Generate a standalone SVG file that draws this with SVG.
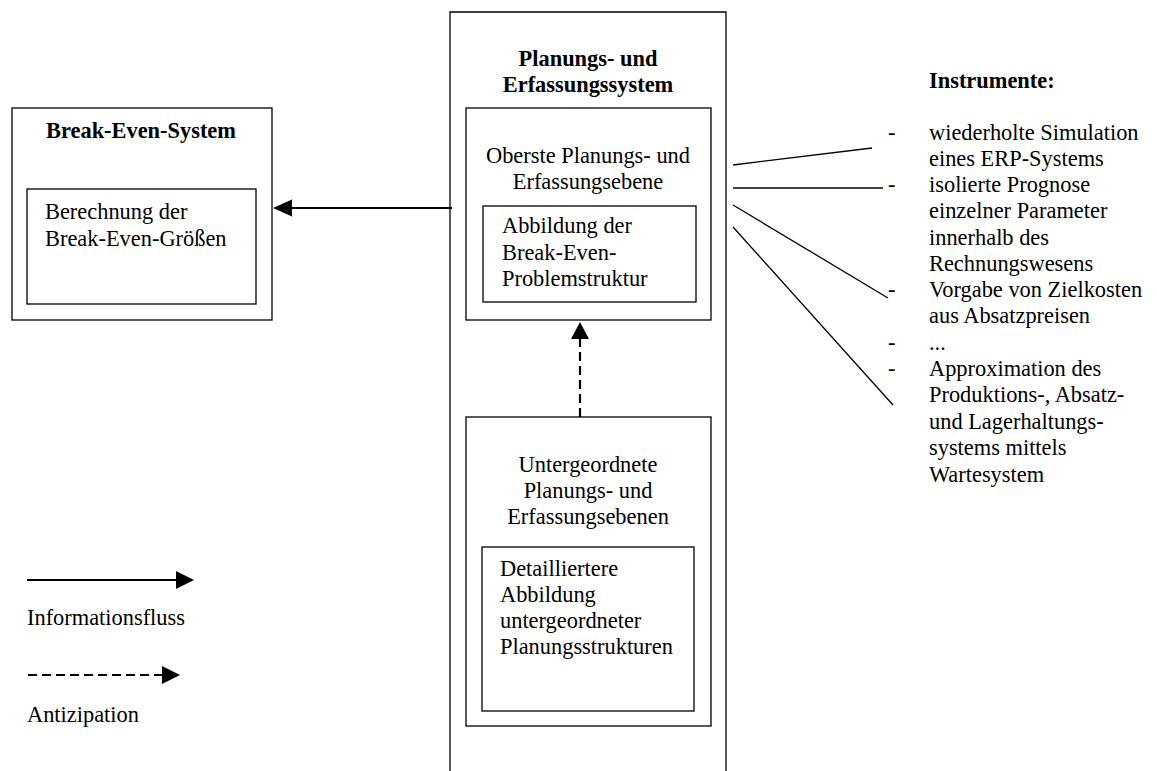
<svg xmlns="http://www.w3.org/2000/svg" width="1157" height="771" viewBox="0 0 1157 771">
<style>
text{font-family:"Liberation Serif","Times New Roman",serif;font-size:22.4px;fill:#000}
.b{font-weight:bold}
.c{text-anchor:middle}
.box{fill:none;stroke:#000;stroke-width:1.3}
.ln{stroke:#000;stroke-width:1.3;fill:none}
.arr{stroke:#000;stroke-width:2.2;fill:none}
.dash{stroke-dasharray:9 5}
.head{fill:#000}
</style>
<rect width="1157" height="771" fill="#fff"/>
<g id="break-even-system">
<rect class="box" x="12" y="108" width="260" height="212"/>
<text class="b c" x="141" y="138">Break-Even-System</text>
</g>
<g id="berechnung">
<rect class="box" x="27" y="189" width="229" height="115"/>
<text x="45" y="219">Berechnung der</text>
<text x="45" y="246">Break-Even-Größen</text>
</g>
<g id="planungssystem">
<path class="box" d="M450,780 V12 H726 V780"/>
<text class="b c" x="588" y="66">Planungs- und</text>
<text class="b c" x="588" y="92">Erfassungssystem</text>
</g>
<g id="oberste-ebene">
<rect class="box" x="466" y="108" width="245" height="212"/>
<text class="c" x="588" y="163">Oberste Planungs- und</text>
<text class="c" x="588" y="189">Erfassungsebene</text>
</g>
<g id="abbildung">
<rect class="box" x="483" y="206" width="213" height="96"/>
<text x="502" y="233">Abbildung der</text>
<text x="502" y="260">Break-Even-</text>
<text x="502" y="286">Problemstruktur</text>
</g>
<g id="untergeordnete-ebenen">
<rect class="box" x="466" y="417" width="245" height="309"/>
<text class="c" x="588" y="472">Untergeordnete</text>
<text class="c" x="588" y="498">Planungs- und</text>
<text class="c" x="588" y="524">Erfassungsebenen</text>
</g>
<g id="detailliertere-abbildung">
<rect class="box" x="482" y="547" width="212" height="164"/>
<text x="500" y="576">Detailliertere</text>
<text x="500" y="602">Abbildung</text>
<text x="500" y="628">untergeordneter</text>
<text x="500" y="654">Planungsstrukturen</text>
</g>
<g id="instrumente">
<text class="b" x="929" y="88">Instrumente:</text>
<text x="888" y="140">-</text>
<text x="929" y="140">wiederholte Simulation</text>
<text x="929" y="166">eines ERP-Systems</text>
<text x="888" y="192">-</text>
<text x="929" y="192">isolierte Prognose</text>
<text x="929" y="218">einzelner Parameter</text>
<text x="929" y="245">innerhalb des</text>
<text x="929" y="271">Rechnungswesens</text>
<text x="888" y="297">-</text>
<text x="929" y="297">Vorgabe von Zielkosten</text>
<text x="929" y="323">aus Absatzpreisen</text>
<text x="888" y="350">-</text>
<text x="929" y="350">...</text>
<text x="888" y="376">-</text>
<text x="929" y="376">Approximation des</text>
<text x="929" y="402">Produktions-, Absatz-</text>
<text x="929" y="429">und Lagerhaltungs-</text>
<text x="929" y="455">systems mittels</text>
<text x="929" y="482">Wartesystem</text>
</g>
<g id="connectors">
<line class="arr" x1="452" y1="208" x2="290" y2="208"/>
<polygon class="head" points="273,208 292,199.5 292,216.5"/>
<line class="arr dash" x1="580" y1="417" x2="580" y2="338"/>
<polygon class="head" points="580,322 571,339 589,339"/>
<line class="ln" x1="733" y1="165" x2="872" y2="148"/>
<line class="ln" x1="733" y1="188" x2="883" y2="188"/>
<line class="ln" x1="733" y1="205" x2="888" y2="298"/>
<line class="ln" x1="733" y1="227" x2="893" y2="405"/>
</g>
<g id="legend">
<line class="arr" x1="27" y1="580" x2="177" y2="580"/>
<polygon class="head" points="194,580 176,571 176,589"/>
<text x="27" y="625">Informationsfluss</text>
<line class="arr dash" x1="28" y1="675" x2="163" y2="675"/>
<polygon class="head" points="180,675 162,666 162,684"/>
<text x="27" y="722">Antizipation</text>
</g>
</svg>
